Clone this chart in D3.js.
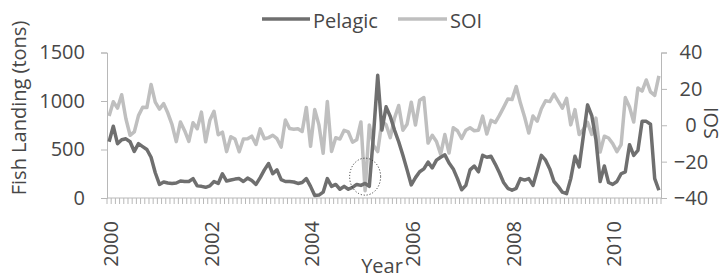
<!DOCTYPE html>
<html>
<head>
<meta charset="utf-8">
<script src="https://cdn.jsdelivr.net/npm/d3@7"></script>
<style>
  html, body { margin: 0; padding: 0; background: #ffffff; }
  svg { display: block; }
  text { font-family: "Open Sans", "Noto Sans", sans-serif; fill: #474747; }
</style>
</head>
<body>
<svg id="chart" width="726" height="279"></svg>
<script>
// ---------- data ----------
const years = ["2000","2001","2002","2003","2004","2005","2006","2007","2008","2009","2010"];
const monthNames = ["Jan","Feb","Mar","Apr","May","Jun","Jul","Aug","Sep","Oct","Nov","Dec"];
const categories = years.flatMap(y => monthNames.map(m => y + "-" + m));
const yearLabels = ["2000","2002","2004","2006","2008","2010"];

const pelagic = [
  580, 740, 560, 600, 610, 580, 480, 560, 530, 500, 420, 260,
  140, 165, 155, 150, 155, 175, 170, 170, 200, 125, 120, 110,
  125, 170, 150, 250, 175, 185, 195, 200, 170, 205, 180, 140,
  210, 290, 355, 250, 290, 190, 170, 170, 165, 150, 160, 200,
  120, 25, 30, 60, 200, 120, 140, 90, 120, 90, 110, 140,
  130, 150, 120, 650, 1265, 700, 940, 840, 700, 580, 440, 290,
  135, 210, 270, 300, 370, 310, 390, 420, 445, 360, 300, 200,
  85, 130, 290, 330, 270, 440, 420, 430, 350, 260, 160, 100,
  80, 100, 200, 185, 200, 130, 280, 440, 390, 300, 170, 120,
  60, 45, 200, 430, 320, 640, 960, 850, 600, 170, 330, 160,
  140, 170, 250, 270, 550, 440, 490, 790, 790, 760, 200, 80
];
const soi = [
  5.1, 12.9, 9.4, 16.8, 3.6, -5.5, -3.7, 5.3, 9.9, 9.7, 22.4, 12.7,
  8.9, 11.9, 6.7, 0.3, -9.0, 1.8, -3.0, -8.9, 1.4, -1.9, 7.2, -9.1,
  2.7, 7.7, -5.2, -3.8, -14.5, -6.3, -7.6, -14.6, -7.6, -7.4, -6.0, -10.6,
  -2.0, -7.4, -6.8, -5.5, -7.4, -12.0, 2.9, -1.8, -2.2, -1.9, -3.4, 9.8,
  -11.6, 8.6, 0.2, -15.4, 13.1, -14.4, -6.9, -7.6, -2.8, -3.7, -9.3, -8.0,
  1.8, -36.0, 0.2, -11.2, -14.5, 2.1, 0.3, -6.8, 3.9, 10.9, -2.7, 0.6,
  12.7, 0.1, 13.8, 15.2, -9.8, -5.5, -8.9, -15.9, -5.1, -15.3, -1.4, -3.0,
  -7.3, -2.7, -1.4, -3.0, -2.7, 5.0, -4.8, 2.7, 1.5, 5.4, 9.8, 14.4,
  14.1, 21.3, 12.2, 4.5, -4.3, 5.1, 2.2, 9.1, 13.5, 13.0, 17.1, 13.3,
  9.4, 14.8, 0.2, 8.6, -5.1, -2.3, 1.6, -5.0, 3.9, -14.7, -6.0, -7.0,
  -10.1, -14.5, -10.6, 15.2, 10.0, 1.8, 20.5, 18.8, 24.9, 18.3, 16.4, 27.1
];
const leftTicks = [0, 500, 1000, 1500];
const rightTicks = [-40, -20, 0, 20, 40];
const seriesNames = ["Pelagic", "SOI"];
// annotation: dotted circle around Feb 2005
const highlightMonth = "2005-Feb";
const highlightValue = 220;

// ---------- layout ----------
const plot = { left: 107, right: 661, top: 52.5, bottom: 198 };
const colPelagic = "#6f6f6f";
const colSoi = "#bfbfbf";
const colAxis = "#b8b8b8";

const svg = d3.select("#chart");

const x = d3.scaleBand().domain(categories).range([plot.left, plot.right]).paddingInner(0).paddingOuter(0);
const yL = d3.scaleLinear().domain([0, 1500]).range([plot.bottom, plot.top]);
const yR = d3.scaleLinear().domain([-40, 40]).range([plot.bottom, plot.top]);
const cx = c => x(c) + x.bandwidth() / 2;

// left axis
const gL = svg.append("g").attr("transform", `translate(${plot.left},0)`)
  .call(d3.axisLeft(yL).tickValues(leftTicks).tickSize(6).tickPadding(16).tickFormat(d3.format("d")));
gL.select(".domain").attr("stroke", colAxis).attr("stroke-width", 1);
gL.selectAll(".tick line").attr("stroke", colAxis);
gL.selectAll(".tick text").attr("font-size", 20).attr("fill", "#474747").attr("font-family", "Open Sans");

// right axis
const gR = svg.append("g").attr("transform", `translate(${plot.right},0)`)
  .call(d3.axisRight(yR).tickValues(rightTicks).tickSize(6).tickPadding(0).tickFormat(d3.format("d")));
gR.select(".domain").attr("stroke", colAxis).attr("stroke-width", 1);
gR.selectAll(".tick line").attr("stroke", colAxis);
gR.selectAll(".tick text").attr("font-size", 20).attr("fill", "#474747").attr("font-family", "Open Sans")
  .attr("text-anchor", "middle").attr("x", 30);

// bottom axis: line + a tick at every month boundary
const gB = svg.append("g");
gB.append("line").attr("x1", plot.left).attr("x2", plot.right)
  .attr("y1", plot.bottom).attr("y2", plot.bottom).attr("stroke", colAxis);
const boundaries = categories.map(c => x(c)).concat([x(categories[categories.length - 1]) + x.bandwidth()]);
gB.selectAll("line.mt").data(boundaries).enter().append("line").attr("class", "mt")
  .attr("x1", d => d).attr("x2", d => d)
  .attr("y1", plot.bottom).attr("y2", plot.bottom + 6)
  .attr("stroke", colAxis).attr("stroke-width", 1);
gB.selectAll("text.yl").data(yearLabels).enter().append("text").attr("class", "yl")
  .attr("transform", d => `translate(${cx(d + "-Jan") + 1.5},${plot.bottom + 23}) rotate(-90)`)
  .attr("text-anchor", "end").attr("dy", "0.36em").attr("font-size", 20)
  .text(d => d);

// lines
const lineP = d3.line().x((d, i) => cx(categories[i])).y(d => yL(d));
const lineS = d3.line().x((d, i) => cx(categories[i])).y(d => yR(d));
svg.append("path").datum(soi).attr("d", lineS).attr("fill", "none")
  .attr("stroke", colSoi).attr("stroke-width", 3.5).attr("stroke-linejoin", "round");
svg.append("path").datum(pelagic).attr("d", lineP).attr("fill", "none")
  .attr("stroke", colPelagic).attr("stroke-width", 3.5).attr("stroke-linejoin", "round");

// dotted ellipse annotation
svg.append("ellipse")
  .attr("cx", cx(highlightMonth)).attr("cy", yL(highlightValue))
  .attr("rx", 15.5).attr("ry", 18.5)
  .attr("fill", "none").attr("stroke", "#222").attr("stroke-width", 1)
  .attr("stroke-dasharray", "1,2");

// axis titles
svg.append("text").attr("transform", "translate(26,108) rotate(-90)")
  .attr("text-anchor", "middle").attr("font-size", 20).text("Fish Landing (tons)");
svg.append("text").attr("transform", "translate(718,123) rotate(-90)")
  .attr("text-anchor", "middle").attr("font-size", 20).text("SOI");
svg.append("text").attr("x", 382).attr("y", 273)
  .attr("text-anchor", "middle").attr("font-size", 20).text("Year");

// legend
const legend = [
  { name: seriesNames[0], color: colPelagic, x1: 262, x2: 310 },
  { name: seriesNames[1], color: colSoi, x1: 398, x2: 447 }
];
const gLeg = svg.append("g");
gLeg.selectAll("line").data(legend).enter().append("line")
  .attr("x1", d => d.x1).attr("x2", d => d.x2).attr("y1", 19).attr("y2", 19)
  .attr("stroke", d => d.color).attr("stroke-width", 3.5);
gLeg.selectAll("text").data(legend).enter().append("text")
  .attr("x", d => d.x2 + 3).attr("y", 27.5).attr("font-size", 20).text(d => d.name);
</script>
</body>
</html>
